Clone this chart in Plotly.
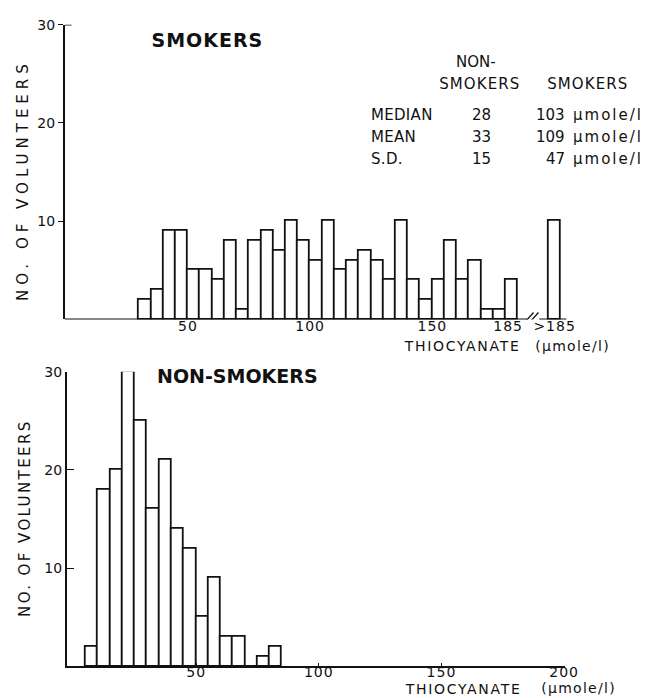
import json
import plotly.graph_objects as go

# ---- data -------------------------------------------------------------
BIN_WIDTH = 5  # µmole/l per class

# Smokers: lower class edges and number of volunteers in each class
smokers_bin_left = [30, 35, 40, 45, 50, 55, 60, 65, 70, 75, 80, 85, 90, 95, 100,
                    105, 110, 115, 120, 125, 130, 135, 140, 145, 150, 155, 160,
                    165, 170, 175, 180]
smokers_count = [2, 3, 9, 9, 5, 5, 4, 8, 1, 8, 9, 7, 10, 8, 6,
                 10, 5, 6, 7, 6, 4, 10, 4, 2, 4, 8, 4, 6, 1, 1, 4]
smokers_over_185 = 10

# Non-smokers
nonsmokers_bin_left = [5, 10, 15, 20, 25, 30, 35, 40, 45, 50, 55, 60, 65, 70, 75, 80]
nonsmokers_count = [2, 18, 20, 30, 25, 16, 21, 14, 12, 5, 9, 3, 3, 0, 1, 2]

# Summary table
stat_names = ["MEDIAN", "MEAN", "S.D."]
stat_nonsmokers = [28, 33, 15]
stat_smokers = [103, 109, 47]
stat_unit = "µmole/l"

top_x_ticks = ["50", "100", "150", "185", ">185"]
bottom_x_ticks = ["50", "100", "150", "200"]
y_ticks = [10, 20, 30]

# ---- layout constants ---------------------------------------------------
W, H = 658, 698
FONT = "DejaVu Sans"
INK = "#111111"
OVERFLOW_X = 200        # where the open-ended ">185" class is drawn
BREAK_L, BREAK_R = 188.9, 193.7


def px_x(p):
    return p / W


def px_y(p):
    return 1 - p / H


fig = go.Figure()

bar_style = dict(marker=dict(color="white", line=dict(color=INK, width=1.8)),
                 showlegend=False, hoverinfo="skip")

fig.add_trace(go.Bar(
    x=[l + BIN_WIDTH / 2 for l in smokers_bin_left] + [OVERFLOW_X],
    y=smokers_count + [smokers_over_185],
    width=BIN_WIDTH, xaxis="x", yaxis="y", **bar_style))

fig.add_trace(go.Bar(
    x=[l + BIN_WIDTH / 2 for l in nonsmokers_bin_left],
    y=nonsmokers_count,
    width=BIN_WIDTH, xaxis="x2", yaxis="y2", **bar_style))

tickfont = dict(family=FONT, size=14, color=INK)

fig.update_layout(
    width=W, height=H, autosize=False,
    margin=dict(l=0, r=0, t=0, b=0),
    paper_bgcolor="white", plot_bgcolor="white",
    bargap=0,
    xaxis=dict(domain=[px_x(66), px_x(578)], range=[-0.4, 204.9],
               showline=False, showgrid=False, zeroline=False, ticks="",
               tickvals=[50, 100, 150, 181, OVERFLOW_X], ticktext=top_x_ticks,
               tickfont=tickfont, ticklabelstandoff=-3, anchor="y"),
    yaxis=dict(domain=[px_y(315), px_y(17)], range=[0, 30],
               showline=True, linecolor=INK, linewidth=1.6,
               showgrid=False, zeroline=False,
               ticks="outside", ticklen=5, tickwidth=1.4, tickcolor=INK,
               tickvals=y_ticks, tickfont=tickfont, anchor="x"),
    xaxis2=dict(domain=[px_x(68), px_x(576)], range=[-2.8, 200.2],
                showline=True, linecolor=INK, linewidth=1.6,
                showgrid=False, zeroline=False,
                ticks="inside", ticklen=4, tickwidth=1.4, tickcolor=INK,
                tickvals=[50, 100, 150, 200], ticktext=bottom_x_ticks,
                tickfont=tickfont, ticklabelstandoff=-8, anchor="y2"),
    yaxis2=dict(domain=[px_y(666), px_y(368)], range=[0, 30],
                showline=True, linecolor=INK, linewidth=1.6,
                showgrid=False, zeroline=False,
                ticks="inside", ticklen=8, tickwidth=1.4, tickcolor=INK,
                tickvals=y_ticks, tickfont=tickfont, anchor="x2"),
)

# Broken x axis of the smokers panel
axis_line = dict(color=INK, width=1.6)
fig.add_shape(type="line", xref="x", yref="y", x0=-0.4, x1=BREAK_L, y0=0, y1=0, line=axis_line)
fig.add_shape(type="line", xref="x", yref="y", x0=BREAK_R, x1=204.9, y0=0, y1=0, line=axis_line)
for dx in (0.0, 2.0):
    fig.add_shape(type="line", xref="x", yref="y",
                  x0=187.8 + dx, x1=191.4 + dx, y0=-0.3, y1=0.7,
                  line=dict(color=INK, width=1.3))
# the top tick of the smokers axis also reaches into the plot
fig.add_shape(type="line", xref="x", yref="y", x0=-0.4, x1=2.4, y0=30, y1=30,
              line=dict(color=INK, width=1.4))

# letter spacing (px) for each annotation, applied after drawing
spacing = []


def text(x, y, s, size=14, bold=False, anchor="center", angle=0, track=0.0):
    fig.add_annotation(
        x=px_x(x), y=px_y(y), xref="paper", yref="paper",
        text=f"<b>{s}</b>" if bold else s, showarrow=False,
        xanchor=anchor, yanchor="middle", align=anchor, textangle=angle,
        borderpad=0,
        font=dict(family=FONT, size=size, color=INK))
    spacing.append(track)


# Panel titles
text(212, 32, "SMOKERS", size=19, bold=True, track=1.0)
text(242, 372, "NON-SMOKERS", size=19, bold=True)

# Axis titles
text(23, 174, "NO. OF VOLUNTEERS", size=15, angle=-90, track=5.0)
text(26, 516, "NO. OF VOLUNTEERS", size=15, angle=-90, track=2.4)
text(471, 342, "THIOCYANATE", size=14, track=1.7)
text(584, 342, "(µmole/l)", size=14, track=1.3)
text(472, 689, "THIOCYANATE", size=14, track=1.7)
text(590, 688, "(µmole/l)", size=14, track=1.3)

# Summary table
text(486, 55, "NON-", size=15)
text(490, 77, "SMOKERS", size=15, track=1.1)
text(600, 77, "SMOKERS", size=15, track=1.1)
for i, (name, ns, sm) in enumerate(zip(stat_names, stat_nonsmokers, stat_smokers)):
    row_y = [108, 131, 153][i]
    text(377, row_y, name, size=15, anchor="left", track=0.3)
    text(491, row_y, str(ns), size=15)
    text(577, row_y, str(sm), size=15, anchor="right")
    text(584, row_y, stat_unit, size=15, anchor="left", track=2.0)

post = """
var sp = %s;
var gd = document.getElementById('{plot_id}');
gd.querySelectorAll('g.annotation').forEach(function (g) {
  var i = +g.getAttribute('data-index');
  var t = g.querySelector('text.annotation-text');
  if (t && sp[i]) { t.style.letterSpacing = sp[i] + 'px'; }
});
gd.querySelectorAll('g.xtick text, g.x2tick text').forEach(function (t) {
  t.style.letterSpacing = '1px';
});
""" % json.dumps(spacing)

fig.write_html("out.html", post_script=post)
